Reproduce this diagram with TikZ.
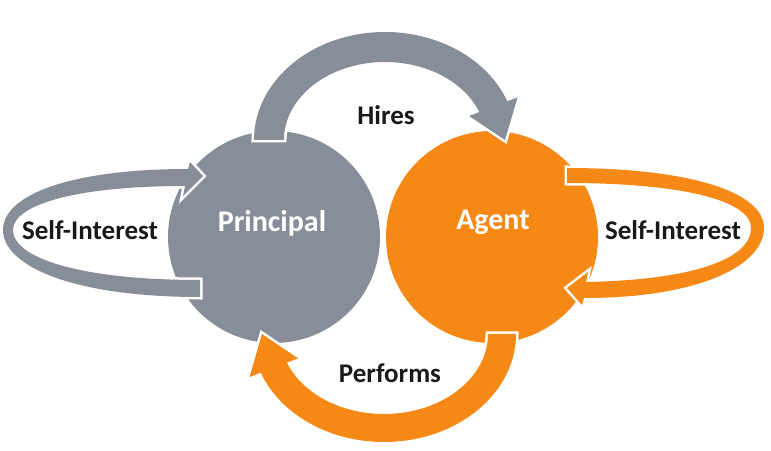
\documentclass[tikz,border=0pt]{standalone}
\usepackage{fontspec}
\setmainfont{Carlito}
\usepackage{tikz}
\usetikzlibrary{calc}
\definecolor{slate}{RGB}{136,142,153}
\definecolor{amber}{RGB}{246,137,22}

\begin{document}
\begin{tikzpicture}[x=1pt,y=1pt,
    party/.style={circle,minimum size=212pt,inner sep=0pt},
    blockarrow/.style={preaction={draw=white,line width=5pt}},
    lbl/.style={anchor=base,text=black!90,font=\fontsize{27}{30}\selectfont\bfseries},
    who/.style={anchor=base,text=white,font=\fontsize{30}{33}\selectfont\bfseries}]
  \useasboundingbox (0,0) rectangle (771,450);

  \node[party,fill=slate] (principal) at (274,213) {};
  \node[party,fill=amber] (agent) at (492,213) {};

  \path[blockarrow,fill=slate] (200,153) .. controls (70,153) and (3,185) .. (3,220)
    .. controls (3,255) and (70,281) .. (188,281) -- (190,288) -- (203,274) -- (183,254) -- (185,264)
    .. controls (75,264) and (13,245) .. (13,220) .. controls (13,192) and (80,170) .. (200,170) -- cycle;
  \path[blockarrow,fill=amber] (567,282) .. controls (690,282) and (764,258) .. (764,222)
    .. controls (764,185) and (700,152) .. (584,152) -- (582,145) -- (567,162) -- (588,178) -- (586,168)
    .. controls (690,170) and (751,190) .. (751,222) .. controls (751,250) and (680,267) .. (567,267) -- cycle;

  \coordinate (hc) at (385,310);
  \path[blockarrow,fill=slate] ($(hc)+(180:131 and 108)$)
    arc[start angle=180,end angle=21,x radius=131,y radius=108]
    -- ($(hc)+(21:142 and 119)$) -- (505,310) -- ($(hc)+(21:90 and 67)$)
    -- ($(hc)+(21:101 and 78)$)
    arc[start angle=21,end angle=180,x radius=101,y radius=78] -- cycle;

  \coordinate (pc) at (384,116);
  \path[blockarrow,fill=amber] ($(pc)+(0:132 and 108)$)
    arc[start angle=0,end angle=-159,x radius=132,y radius=108]
    -- ($(pc)+(-159:144 and 120)$) -- (262,116) -- ($(pc)+(-159:92 and 68)$)
    -- ($(pc)+(-159:104 and 80)$)
    arc[start angle=-159,end angle=0,x radius=104,y radius=80] -- cycle;

  \node[who] (principal-text) at (272,218) {Principal};
  \node[who] (agent-text) at (493,220) {Agent};
  \node[lbl] (hires) at (386,325) {Hires};
  \node[lbl] (performs) at (390,67) {Performs};
  \node[lbl] (self-p) at (90,210) {Self-Interest};
  \node[lbl] (self-a) at (673,210) {Self-Interest};
\end{tikzpicture}
\end{document}
